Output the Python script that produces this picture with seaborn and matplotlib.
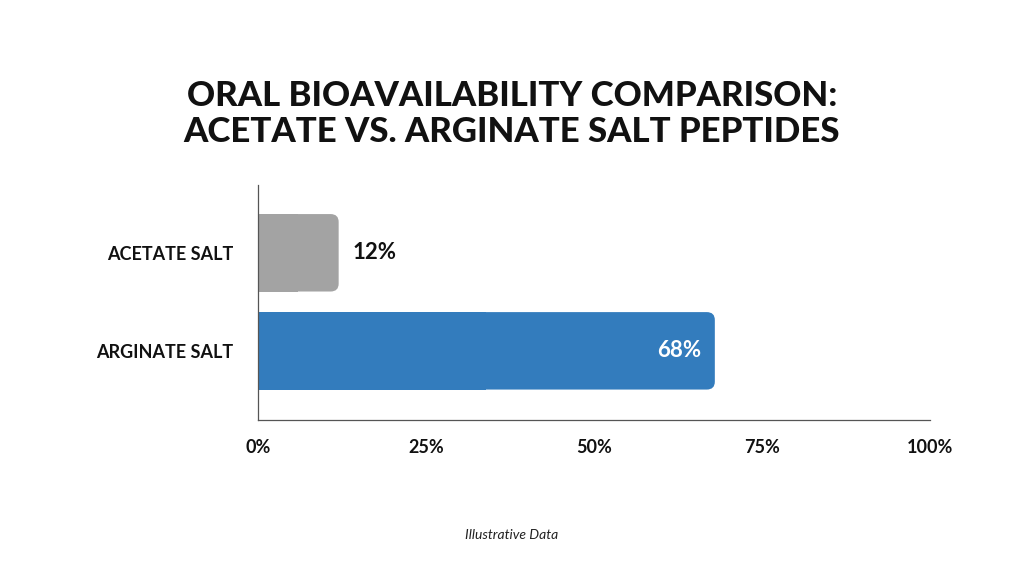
import matplotlib
matplotlib.use("Agg")
import matplotlib.pyplot as plt
import seaborn as sns
import pandas as pd
from matplotlib.patches import FancyBboxPatch, Rectangle

categories = ["ACETATE SALT", "ARGINATE SALT"]
values = [12, 68]
colors = ["#A3A3A3", "#337CBD"]
xticks = [0, 25, 50, 75, 100]
xtick_labels = ["0%", "25%", "50%", "75%", "100%"]

sns.set_theme(style="white")
plt.rcParams['font.family'] = ['Lato', 'DejaVu Sans']

df = pd.DataFrame({"cat": categories, "val": values})
fig = plt.figure(figsize=(10.24, 5.72), dpi=100)
ax = fig.add_axes([0.252, 0.266, 0.656, 0.411])
sns.barplot(data=df, y="cat", x="val", hue="cat", palette=colors, width=0.79,
            legend=False, ax=ax, orient="h")

rx = 1.2
for p, c in zip(list(ax.patches), colors):
    x0, y0, w, h = p.get_x(), p.get_y(), p.get_width(), p.get_height()
    p.remove()
    ax.add_patch(FancyBboxPatch((x0, y0), w, h, boxstyle=f"round,pad=0,rounding_size={rx}",
                                mutation_aspect=0.08 / rx, fc=c, ec="none"))
    ax.add_patch(Rectangle((x0, y0), w / 2, h, fc=c, ec="none"))

for i, v in enumerate(values):
    if v < 30:
        ax.text(v + 2, i, f"{v}%", va="center", ha="left", fontsize=16, fontweight="bold", color="#111111")
    else:
        ax.text(v - 2, i, f"{v}%", va="center", ha="right", fontsize=16, fontweight="bold", color="white")

ax.set_xlim(0, 100)
ax.set_ylim(1.704, -0.694)
ax.set_xticks(xticks)
ax.set_xticklabels(xtick_labels, fontsize=13, fontweight="bold", color="#111111")
ax.tick_params(axis="y", labelsize=13, colors="#111111", pad=18)
for t in ax.get_yticklabels():
    t.set_fontweight("bold")
ax.tick_params(axis="x", pad=14)
ax.tick_params(length=0)
ax.set_xlabel("")
ax.set_ylabel("")
for s in ["top", "right"]:
    ax.spines[s].set_visible(False)
for s in ["left", "bottom"]:
    ax.spines[s].set_color("#555555")
    ax.spines[s].set_linewidth(0.9)

fig.text(0.5, 0.80, "ORAL BIOAVAILABILITY COMPARISON:\nACETATE VS. ARGINATE SALT PEPTIDES",
         ha="center", va="center", fontsize=25, fontweight="black", color="#111111", linespacing=1.15)
fig.text(0.5, 0.064, "Illustrative Data", ha="center", va="center", fontsize=10, style="italic", color="#222222")

fig.savefig("out.png", dpi=100, facecolor="white")
